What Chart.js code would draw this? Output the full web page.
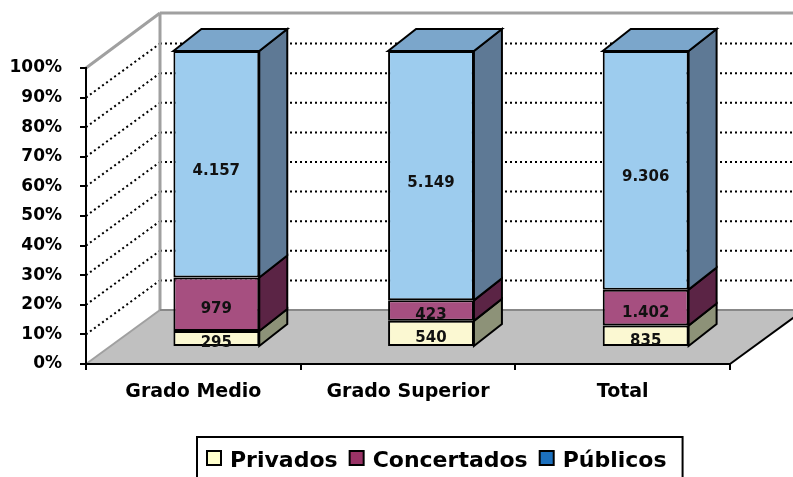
<!DOCTYPE html>
<html>
<head>
<meta charset="utf-8">
<script src="https://cdn.jsdelivr.net/npm/chart.js@4"></script>
<style>
    html, body { margin: 0; background: #fff; }
    #wrap { width: 793px; height: 477px; }
</style>
</head>
<body>
<div id="wrap"><canvas id="chart"></canvas></div>
<script>
// Datos (número de alumnos por titularidad del centro)
const categories = ['Grado Medio', 'Grado Superior', 'Total'];
const privados = [295, 540, 835];
const concertados = [979, 423, 1402];
const publicos = [4157, 5149, 9306];
const seriesNames = ['Privados', 'Concertados', 'Públicos'];
const yTicks = [0, 10, 20, 30, 40, 50, 60, 70, 80, 90, 100];

// Colores: cara frontal, lateral, superior y leyenda
const frontColors = ['#FBF8D2', '#A64F80', '#9DCCEE'];
const sideColors = ['#8D9278', '#5B2445', '#5E7995'];
const topColor = '#7BA6CB';
const legendColors = ['#FFFFCC', '#993366', '#1C70BE'];

// Profundidad 3D (suelo/pared y barras)
const DEPTH = { dx: 74, dy: -54 };
const BAR_SHIFT = { dx: 23, dy: -17 };
const BAR_DEPTH = { dx: 28, dy: -22 };

const FONT = 'DejaVu Sans';
const series = [privados, concertados, publicos];
const totals = categories.map((_, i) => series.reduce((s, arr) => s + arr[i], 0));
const toPct = arr => arr.map((v, i) => v / totals[i] * 100);
const fmt = n => String(n).replace(/\B(?=(\d{3})+(?!\d))/g, '.');

const line = (ctx, pts, color, width, dash) => {
    ctx.save();
    ctx.beginPath();
    ctx.moveTo(pts[0][0], pts[0][1]);
    for (let k = 1; k < pts.length; k++) ctx.lineTo(pts[k][0], pts[k][1]);
    ctx.strokeStyle = color;
    ctx.lineWidth = width;
    ctx.setLineDash(dash || []);
    ctx.stroke();
    ctx.restore();
};

const poly = (ctx, pts, fill, stroke) => {
    ctx.beginPath();
    ctx.moveTo(pts[0][0], pts[0][1]);
    for (let k = 1; k < pts.length; k++) ctx.lineTo(pts[k][0], pts[k][1]);
    ctx.closePath();
    ctx.fillStyle = fill;
    ctx.fill();
    if (stroke) {
        ctx.strokeStyle = stroke;
        ctx.lineWidth = 2;
        ctx.lineJoin = 'miter';
        ctx.stroke();
    }
};

const box3d = {
    id: 'box3d',
    beforeDraw(chart) {
        const { ctx, chartArea: a, scales } = chart;
        const L = a.left, R = a.right, T = a.top, B = a.bottom;
        const dx = DEPTH.dx, dy = DEPTH.dy;
        // suelo
        poly(ctx, [[L, B], [R, B], [R + dx, B + dy], [L + dx, B + dy]], '#C0C0C0');
        // líneas de división punteadas
        yTicks.forEach(v => {
            if (v === 0 || v === 100) return;
            const y = scales.y.getPixelForValue(v);
            line(ctx, [[L, y], [L + dx, y + dy]], '#000', 2, [2, 3]);
            line(ctx, [[L + dx, y + dy], [R + dx, y + dy]], '#000', 2, [2, 3]);
        });
        // bordes de paredes
        const g = '#A0A0A0';
        line(ctx, [[L + dx, B + dy], [L + dx, T + dy - 1]], g, 3);
        line(ctx, [[L + dx, T + dy - 1], [R + dx + 10, T + dy - 1]], g, 3);
        line(ctx, [[L, T], [L + dx, T + dy - 1]], g, 3);
        line(ctx, [[L, B], [L + dx, B + dy]], g, 2);
        line(ctx, [[L + dx, B + dy], [R + dx + 10, B + dy]], '#888', 2);
        line(ctx, [[R, B], [R + dx, B + dy]], '#000', 2);
    },
    beforeDatasetsDraw(chart) {
        chart.ctx.save();
        chart.ctx.translate(BAR_SHIFT.dx, BAR_SHIFT.dy);
    },
    afterDatasetsDraw(chart) {
        const { ctx } = chart;
        const metas = chart.data.datasets.map((_, d) => chart.getDatasetMeta(d));
        categories.forEach((_, i) => {
            metas.forEach((meta, d) => {
                const bar = meta.data[i];
                const left = bar.x - bar.width / 2, right = bar.x + bar.width / 2;
                const top = bar.y, base = bar.base;
                poly(ctx, [[right, top], [right + BAR_DEPTH.dx, top + BAR_DEPTH.dy],
                    [right + BAR_DEPTH.dx, base + BAR_DEPTH.dy], [right, base]], sideColors[d], '#000');
                if (d === metas.length - 1) {
                    poly(ctx, [[left, top], [left + BAR_DEPTH.dx, top + BAR_DEPTH.dy],
                        [right + BAR_DEPTH.dx, top + BAR_DEPTH.dy], [right, top]], topColor, '#000');
                }
            });
            metas.forEach((meta, d) => {
                const bar = meta.data[i];
                ctx.save();
                ctx.font = `bold 15px "${FONT}"`;
                ctx.fillStyle = '#111';
                ctx.textAlign = 'center';
                ctx.textBaseline = 'middle';
                const off = d === 2 ? 7 : 5;
                ctx.fillText(fmt(series[d][i]), bar.x, (bar.y + bar.base) / 2 + off);
                ctx.restore();
            });
        });
        ctx.restore();
    },
    afterDraw(chart) {
        // leyenda con recuadro
        const { ctx } = chart;
        const x0 = 197, y0 = 437;
        ctx.save();
        ctx.font = `bold 22px "${FONT}"`;
        ctx.textBaseline = 'alphabetic';
        let x = x0 + 10;
        seriesNames.forEach((name, d) => {
            ctx.fillStyle = legendColors[d];
            ctx.fillRect(x, 451, 14, 14);
            ctx.strokeStyle = '#000';
            ctx.lineWidth = 2;
            ctx.strokeRect(x, 451, 14, 14);
            x += 23;
            ctx.fillStyle = '#000';
            ctx.fillText(name, x, 467);
            x += ctx.measureText(name).width + 12;
        });
        ctx.strokeStyle = '#000';
        ctx.lineWidth = 2;
        ctx.strokeRect(x0, y0, x - x0 + 4, 60);
        ctx.restore();
    }
};

new Chart(document.getElementById('chart'), {
    type: 'bar',
    data: {
        labels: categories,
        datasets: series.map((arr, d) => ({
            label: seriesNames[d],
            data: toPct(arr),
            backgroundColor: frontColors[d],
            borderColor: '#000',
            borderWidth: 2,
            borderSkipped: false,
            barPercentage: 0.4,
            categoryPercentage: 1,
            clip: false
        }))
    },
    options: {
        responsive: true,
        maintainAspectRatio: false,
        animation: false,
        layout: { padding: { left: 0, top: 68, right: 63, bottom: 73 } },
        plugins: { legend: { display: false }, tooltip: { enabled: false } },
        scales: {
            x: {
                stacked: true,
                afterFit: s => { s.height = 40; },
                grid: { offset: true, drawOnChartArea: false, tickLength: 6, color: '#000', lineWidth: 2 },
                border: { color: '#000', width: 2 },
                ticks: { color: '#000', padding: 11, font: { family: FONT, size: 19, weight: 'bold' } }
            },
            y: {
                stacked: true,
                min: 0,
                max: 100,
                afterFit: s => { s.width = 86; },
                afterBuildTicks: s => { s.ticks = yTicks.map(v => ({ value: v })); },
                grid: { drawOnChartArea: false, tickLength: 6, color: '#000', lineWidth: 2 },
                border: { color: '#000', width: 2 },
                ticks: {
                    color: '#000',
                    padding: 18,
                    font: { family: FONT, size: 17, weight: 'bold' },
                    callback: v => v + '%'
                }
            }
        }
    },
    plugins: [box3d]
});
</script>
</body>
</html>
